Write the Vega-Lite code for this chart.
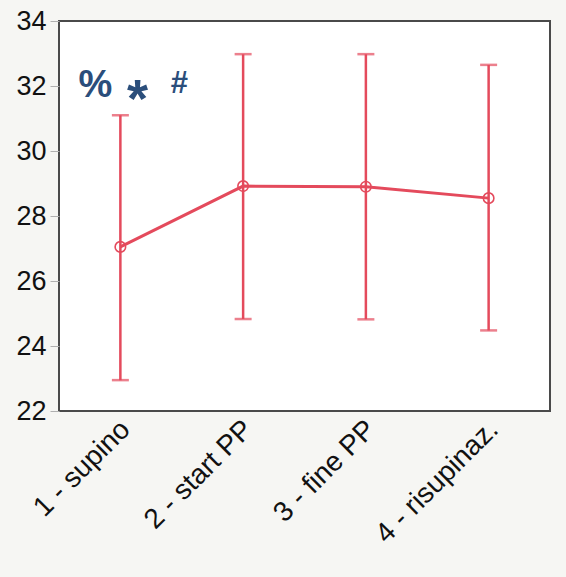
{
  "$schema": "https://vega.github.io/schema/vega-lite/v6.json",
  "autosize": {"type": "none"},
  "padding": {"left": 59, "top": 21, "right": 16, "bottom": 166},
  "width": 491,
  "height": 390,
  "background": "#f6f6f3",
  "config": {
    "view": {"fill": "white", "stroke": "#4a4a4a", "strokeWidth": 2},
    "font": "Liberation Sans",
    "axisY": {"labelFontSize": 27, "labelColor": "#111", "labelPadding": 4, "tickColor": "#b0b0b0", "tickSize": 9, "domain": false, "grid": false, "title": null},
    "axisX": {"labelFontSize": 28, "labelColor": "#111", "labelPadding": 14, "labelOffset": 5, "ticks": false, "domain": false, "grid": false, "title": null, "labelAngle": -45, "labelAlign": "right", "labelBaseline": "middle"}
  },
  "data": {
    "values": [
      {"fase": "1 - supino", "media": 27.05, "lo": 22.95, "hi": 31.1},
      {"fase": "2 - start PP", "media": 28.92, "lo": 24.83, "hi": 32.98},
      {"fase": "3 - fine PP", "media": 28.9, "lo": 24.82, "hi": 32.98},
      {"fase": "4 - risupinaz.", "media": 28.55, "lo": 24.48, "hi": 32.65}
    ]
  },
  "encoding": {
    "x": {
      "field": "fase", "type": "nominal", "sort": null,
      "scale": {"type": "point", "padding": 0.5},
      "axis": {"title": null}
    }
  },
  "layer": [
    {
      "mark": {"type": "rule", "color": "#e44a5c", "strokeWidth": 2.5},
      "encoding": {
        "y": {"field": "lo", "type": "quantitative", "scale": {"domain": [22, 34], "nice": false, "zero": false},
          "axis": {"title": null, "values": [22, 24, 26, 28, 30, 32, 34]}},
        "y2": {"field": "hi"}
      }
    },
    {
      "mark": {"type": "tick", "color": "#e44a5c", "size": 17, "thickness": 2.5, "orient": "horizontal"},
      "encoding": {"y": {"field": "lo", "type": "quantitative"}}
    },
    {
      "mark": {"type": "tick", "color": "#e44a5c", "size": 17, "thickness": 2.5, "orient": "horizontal"},
      "encoding": {"y": {"field": "hi", "type": "quantitative"}}
    },
    {
      "mark": {"type": "line", "color": "#e44a5c", "strokeWidth": 3},
      "encoding": {"y": {"field": "media", "type": "quantitative"}}
    },
    {
      "mark": {"type": "point", "filled": false, "color": "#e44a5c", "size": 110, "strokeWidth": 1.6, "opacity": 1},
      "encoding": {"y": {"field": "media", "type": "quantitative"}}
    },
    {
      "data": {"values": [{"fase": "1 - supino", "y": 32, "t": "%"}]},
      "mark": {"type": "text", "font": "Liberation Sans", "fontWeight": "bold", "fontSize": 38, "color": "#2b4e7b", "dx": -25, "baseline": "middle"},
      "encoding": {"y": {"field": "y", "type": "quantitative"}, "text": {"field": "t"}}
    },
    {
      "data": {"values": [{"fase": "1 - supino", "y": 31.85, "t": "*"}]},
      "mark": {"type": "text", "font": "Liberation Sans", "fontWeight": "bold", "fontSize": 54, "color": "#2b4e7b", "dx": 17, "baseline": "middle", "dy": 10},
      "encoding": {"y": {"field": "y", "type": "quantitative"}, "text": {"field": "t"}}
    },
    {
      "data": {"values": [{"fase": "1 - supino", "y": 32.05, "t": "#"}]},
      "mark": {"type": "text", "font": "Liberation Sans", "fontWeight": "bold", "fontSize": 31, "color": "#2b4e7b", "dx": 59, "baseline": "middle"},
      "encoding": {"y": {"field": "y", "type": "quantitative"}, "text": {"field": "t"}}
    }
  ]
}
